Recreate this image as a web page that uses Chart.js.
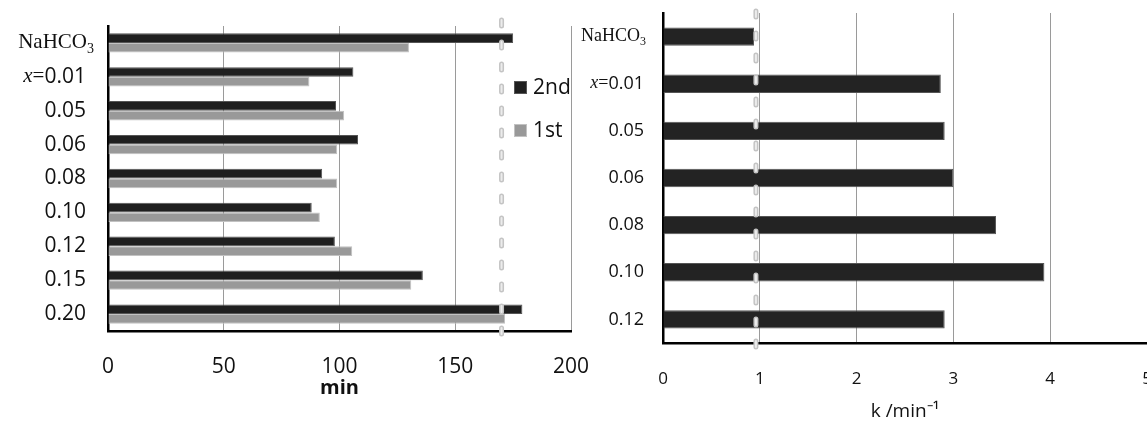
<!DOCTYPE html>
<html><head><meta charset="utf-8">
<script src="https://cdn.jsdelivr.net/npm/chart.js@4"></script>
<style>
html,body{margin:0;padding:0;background:#fff;overflow:hidden;width:1147px;height:423px;}
#c1{position:absolute;left:0;top:0;}
#c2{position:absolute;left:560px;top:0;}
</style></head><body>
<canvas id="c1" width="600" height="423"></canvas>
<canvas id="c2" width="620" height="423"></canvas>
<script>
// ---- data ----
const leftCategories = ['NaHCO3','x=0.01','0.05','0.06','0.08','0.10','0.12','0.15','0.20'];
const secondRunMin = [175,106,98.5,108,92.5,88,98,136,179];
const firstRunMin  = [130,87,102,99,99,91.5,105.5,131,171.5];
const leftTicks = [0,50,100,150,200];
const leftMarker = 170;
const leftSeriesNames = ['2nd','1st'];
const leftAxisTitle = 'min';

const rightCategories = ['NaHCO3','x=0.01','0.05','0.06','0.08','0.10','0.12'];
const rateK = [0.94,2.87,2.91,3.0,3.44,3.94,2.91];
const rightTicks = [0,1,2,3,4,5];
const rightMarker = 0.96;
const rightAxisTitle = 'k /min\u207B\u00B9';

const SANS = '"Open Sans"';
const SERIF = '"Liberation Serif"';

function drawCatLabel(ctx, label, xNum, xSerif, y, size){
  ctx.save();
  ctx.fillStyle = '#111';
  ctx.textBaseline = 'middle';
  ctx.textAlign = 'right';
  if (label.startsWith('NaHCO')) {
    const main = label.slice(0,5), sub = label.slice(5);
    ctx.font = Math.round(size*0.68) + 'px ' + SERIF;
    const sw = ctx.measureText(sub).width;
    ctx.fillText(sub, xSerif, y + size*0.32);
    ctx.font = size + 'px ' + SERIF;
    ctx.fillText(main, xSerif - sw, y);
  } else if (label.startsWith('x=')) {
    const num = label.slice(2);
    ctx.font = size + 'px ' + SANS;
    const nw = ctx.measureText(num).width;
    ctx.fillText(num, xNum, y);
    ctx.font = size + 'px ' + SERIF;
    const ew = ctx.measureText('=').width;
    ctx.fillText('=', xNum - nw, y);
    ctx.font = 'italic ' + size + 'px ' + SERIF;
    ctx.fillText('x', xNum - nw - ew, y);
  } else {
    ctx.font = size + 'px ' + SANS;
    ctx.fillText(label, xNum, y);
  }
  ctx.restore();
}

function catLabelPlugin(xNum, xSerif, size){
  return {
    id: 'catLabels',
    afterDraw(chart){
      const ys = chart.scales.y;
      chart.data.labels.forEach((lab, i) => {
        drawCatLabel(chart.ctx, lab, xNum, xSerif, ys.getPixelForValue(i), size);
      });
    }
  };
}

function markerPlugin(value, extTop, extBottom){
  return {
    id: 'marker',
    afterDatasetsDraw(chart){
      const ctx = chart.ctx, xs = chart.scales.x, a = chart.chartArea;
      const x = xs.getPixelForValue(value);
      ctx.save();
      ctx.lineCap = 'round';
      ctx.setLineDash([6,16]);
      ctx.strokeStyle = '#c4c4c4';
      ctx.lineWidth = 5;
      ctx.beginPath(); ctx.moveTo(x, a.top - extTop); ctx.lineTo(x, a.bottom + extBottom); ctx.stroke();
      ctx.strokeStyle = '#ececec';
      ctx.lineWidth = 2;
      ctx.beginPath(); ctx.moveTo(x, a.top - extTop); ctx.lineTo(x, a.bottom + extBottom); ctx.stroke();
      ctx.restore();
    }
  };
}

const legendPlugin = {
  id: 'customLegend',
  afterDraw(chart){
    const ctx = chart.ctx;
    const rows = [88, 131];
    chart.data.datasets.forEach((ds, i) => {
      const y = rows[i];
      ctx.save();
      ctx.fillStyle = ds.backgroundColor;
      ctx.fillRect(514, y - 7, 13, 13);
      ctx.strokeStyle = ds.borderColor;
      ctx.lineWidth = 1;
      ctx.strokeRect(514.5, y - 6.5, 12, 12);
      ctx.fillStyle = '#111';
      ctx.font = '21px ' + SANS;
      ctx.textBaseline = 'middle';
      ctx.textAlign = 'left';
      ctx.fillText(ds.label, 533, y);
      ctx.restore();
    });
  }
};

function fixX(h){ return s => { s.height = h; s.paddingLeft = 0; s.paddingRight = 0; }; }

// ---- left chart ----
new Chart(document.getElementById('c1'), {
  type: 'bar',
  data: {
    labels: leftCategories,
    datasets: [
      {label: leftSeriesNames[0], data: secondRunMin, backgroundColor: '#1f1f1f', borderColor: '#555', borderWidth: 1,
       categoryPercentage: 0.57, barPercentage: 1.0},
      {label: leftSeriesNames[1], data: firstRunMin, backgroundColor: '#999999', borderColor: '#c2c2c2', borderWidth: 1,
       categoryPercentage: 0.57, barPercentage: 1.0}
    ]
  },
  options: {
    indexAxis: 'y',
    responsive: false,
    animation: false,
    events: [],
    layout: {padding: {top: 26, right: 29, left: 0, bottom: 0}},
    plugins: {legend: {display: false}, tooltip: {enabled: false}},
    scales: {
      x: {
        min: 0, max: 200,
        afterBuildTicks: s => { s.ticks = leftTicks.map(v => ({value: v})); },
        afterFit: fixX(92),
        grid: {color: '#9a9a9a', lineWidth: 1, drawTicks: false},
        border: {color: '#000', width: 2.5},
        ticks: {color: '#111', font: {family: 'Open Sans', size: 21}, padding: 23, maxRotation: 0},
        title: {display: true, text: leftAxisTitle, color: '#111',
                font: {family: 'Open Sans', size: 20, weight: 'bold'}, padding: {top: 0, bottom: 23}}
      },
      y: {
        afterFit: s => { s.width = 108; },
        grid: {display: false},
        border: {color: '#000', width: 2.5},
        ticks: {display: false}
      }
    }
  },
  plugins: [markerPlugin(leftMarker, 6, 10), legendPlugin, catLabelPlugin(86, 94, 21)]
});

// ---- right chart ----
new Chart(document.getElementById('c2'), {
  type: 'bar',
  data: {
    labels: rightCategories,
    datasets: [
      {label: 'k', data: rateK, backgroundColor: '#232323', borderColor: '#555', borderWidth: 1,
       categoryPercentage: 1.0, barPercentage: 0.39}
    ]
  },
  options: {
    indexAxis: 'y',
    responsive: false,
    animation: false,
    events: [],
    layout: {padding: {top: 13, right: 33, left: 0, bottom: 0}},
    plugins: {legend: {display: false}, tooltip: {enabled: false}},
    scales: {
      x: {
        min: 0, max: 5,
        afterBuildTicks: s => { s.ticks = rightTicks.map(v => ({value: v})); },
        afterFit: fixX(80),
        grid: {color: '#9a9a9a', lineWidth: 1, drawTicks: false},
        border: {color: '#000', width: 2.5},
        ticks: {color: '#111', font: {family: 'Open Sans', size: 17}, padding: 26, maxRotation: 0},
        title: {display: true, text: rightAxisTitle, color: '#111',
                font: {family: 'Open Sans', size: 19}, padding: {top: 0, bottom: 0}}
      },
      y: {
        afterFit: s => { s.width = 103; },
        grid: {display: false},
        border: {color: '#000', width: 2.5},
        ticks: {display: false}
      }
    }
  },
  plugins: [markerPlugin(rightMarker, 2, 4), catLabelPlugin(84, 86, 18)]
});
</script>
</body></html>
